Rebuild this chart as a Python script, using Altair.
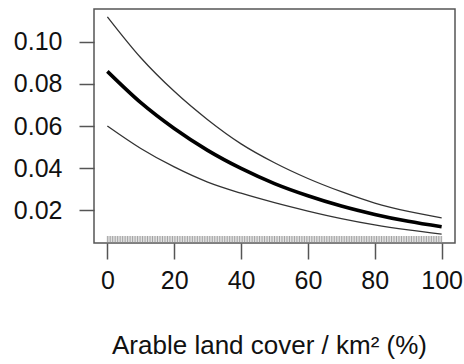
import altair as alt
import pandas as pd

# Predicted probability and 95% confidence bounds against arable land cover
cover = [0, 10, 20, 30, 40, 50, 60, 70, 80, 90, 100]
fit = [0.0860, 0.0711, 0.0588, 0.0484, 0.0398, 0.0326, 0.0268, 0.0219, 0.0179, 0.0146, 0.0120]
upper = [0.1120, 0.0925, 0.0765, 0.0630, 0.0515, 0.0425, 0.0350, 0.0287, 0.0233, 0.0193, 0.0162]
lower = [0.0600, 0.0493, 0.0405, 0.0333, 0.0280, 0.0235, 0.0195, 0.0159, 0.0129, 0.0105, 0.0085]

# Observed cover values shown as a rug along the bottom of the panel
rug_cover = [
    0, 0.5, 1, 1.5, 2, 2.5, 3, 3.5, 4, 4.5, 5, 5.5, 6, 6.5, 7, 7.5, 8, 8.5, 9, 9.5,
    10, 10.5, 11, 11.5, 12, 12.5, 13, 13.5, 14, 14.5, 15, 15.5, 16, 16.5, 17, 17.5, 18, 18.5, 19, 19.5,
    20, 20.5, 21, 21.5, 22, 22.5, 23, 23.5, 24, 24.5, 25, 25.5, 26, 26.5, 27, 27.5, 28, 28.5, 29, 29.5,
    30, 30.5, 31, 31.5, 32, 32.5, 33, 33.5, 34, 34.5, 35, 35.5, 36, 36.5, 37, 37.5, 38, 38.5, 39, 39.5,
    40, 40.5, 41, 41.5, 42, 42.5, 43, 43.5, 44, 44.5, 45, 45.5, 46, 46.5, 47, 47.5, 48, 48.5, 49, 49.5,
    50, 50.5, 51, 51.5, 52, 52.5, 53, 53.5, 54, 54.5, 55, 55.5, 56, 56.5, 57, 57.5, 58, 58.5, 59, 59.5,
    60, 60.5, 61, 61.5, 62, 62.5, 63, 63.5, 64, 64.5, 65, 65.5, 66, 66.5, 67, 67.5, 68, 68.5, 69, 69.5,
    70, 70.5, 71, 71.5, 72, 72.5, 73, 73.5, 74, 74.5, 75, 75.5, 76, 76.5, 77, 77.5, 78, 78.5, 79, 79.5,
    80, 80.5, 81, 81.5, 82, 82.5, 83, 83.5, 84, 84.5, 85, 85.5, 86, 86.5, 87, 87.5, 88, 88.5, 89, 89.5,
    90, 90.5, 91, 91.5, 92, 92.5, 93, 93.5, 94, 94.5, 95, 95.5, 96, 96.5, 97, 97.5, 98, 98.5, 99, 99.5,
    100,
]

x_ticks = [0, 20, 40, 60, 80, 100]
y_ticks = [0.02, 0.04, 0.06, 0.08, 0.10]

curves = pd.DataFrame({"cover": cover, "fit": fit, "upper": upper, "lower": lower})
rug = pd.DataFrame({"cover": rug_cover})

FONT = "Liberation Sans"
AXIS_GREY = "#555555"

x_scale = alt.Scale(domain=[-4, 104], nice=False, zero=False)
y_scale = alt.Scale(domain=[0.00429, 0.11571], nice=False, zero=False)

x_axis = alt.Axis(
    values=x_ticks, title="Arable land cover / km² (%)", grid=False, domain=False,
    tickSize=16, tickWidth=1.5, tickColor=AXIS_GREY, labelPadding=9,
    labelFontSize=25, labelFont=FONT, labelColor="#111111",
    titleFontSize=26, titleFont=FONT, titleFontWeight="normal", titleColor="#111111",
    titlePadding=39, titleX=175,
)
y_axis = alt.Axis(
    values=y_ticks, format=".2f", title=None, grid=False, domain=False,
    tickSize=15, tickWidth=1.5, tickColor=AXIS_GREY, labelPadding=17,
    labelFontSize=25, labelFont=FONT, labelColor="#111111",
)

base = alt.Chart(curves).encode(
    x=alt.X("cover:Q", scale=x_scale, axis=x_axis)
)

fit_line = base.mark_line(color="#000000", strokeWidth=3.6, interpolate="monotone").encode(
    y=alt.Y("fit:Q", scale=y_scale, axis=y_axis)
)
upper_line = base.mark_line(color="#333333", strokeWidth=1.3, interpolate="monotone").encode(
    y=alt.Y("upper:Q", scale=y_scale)
)
lower_line = base.mark_line(color="#333333", strokeWidth=1.3, interpolate="monotone").encode(
    y=alt.Y("lower:Q", scale=y_scale)
)

rug_marks = alt.Chart(rug).mark_rule(color="#8a8a8a", strokeWidth=0.8).encode(
    x=alt.X("cover:Q", scale=x_scale),
    y=alt.value(227),
    y2=alt.value(234),
)

chart = (
    alt.layer(rug_marks, upper_line, lower_line, fit_line)
    .properties(
        width=361, height=234,
        autosize=alt.AutoSizeParams(type="none"),
        padding={"left": 94, "top": 9, "right": 9, "bottom": 121},
        background="white",
    )
    .configure_view(stroke=AXIS_GREY, strokeWidth=1.5)
)

chart.save("out.html", embed_options={"renderer": "svg", "actions": False})
